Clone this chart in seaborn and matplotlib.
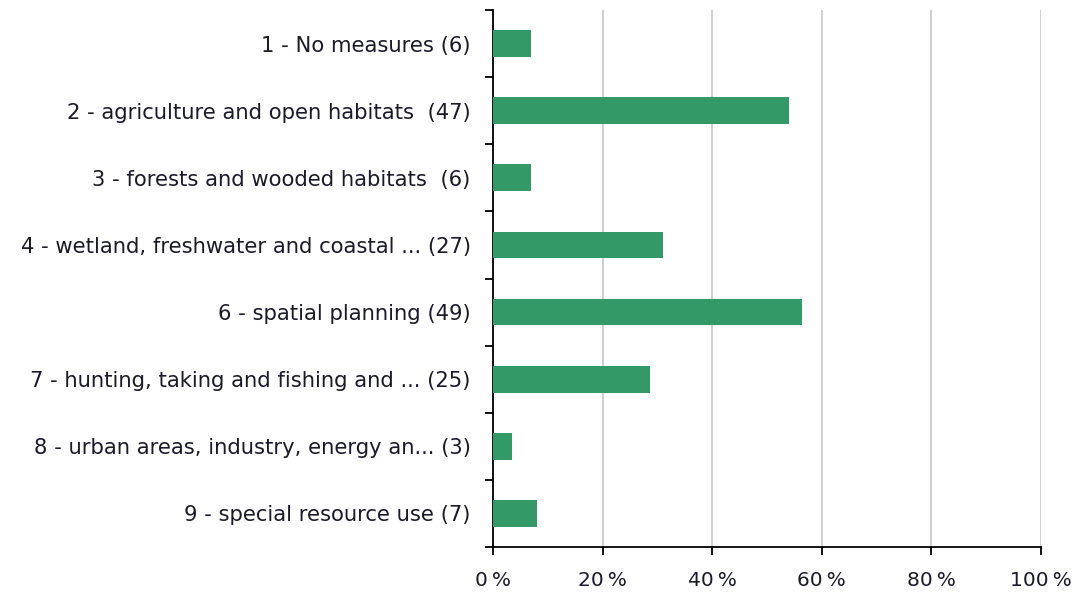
import matplotlib
matplotlib.use("Agg")
import matplotlib.pyplot as plt
import seaborn as sns
import pandas as pd
from matplotlib.ticker import FixedLocator, FuncFormatter

categories = [
    "1 - No measures (6)",
    "2 - agriculture and open habitats  (47)",
    "3 - forests and wooded habitats  (6)",
    "4 - wetland, freshwater and coastal ... (27)",
    "6 - spatial planning (49)",
    "7 - hunting, taking and fishing and ... (25)",
    "8 - urban areas, industry, energy an... (3)",
    "9 - special resource use (7)",
]
shares = [6.9, 54.0, 6.9, 31.0, 56.3, 28.7, 3.4, 8.0]
x_ticks = [0, 20, 40, 60, 80, 100]

sns.set_theme(style="white")
plt.rcParams["font.family"] = ["DejaVu Sans"]

df = pd.DataFrame({"category": categories, "share": shares})

fig = plt.figure(figsize=(10.78, 5.96), dpi=100)
ax = fig.add_axes([0.4573, 0.0822, 0.5084, 0.9010])

sns.barplot(data=df, x="share", y="category", orient="h", color="#339966",
            saturation=1, width=0.4, linewidth=0, ax=ax, zorder=3)

ax.set_xlim(0, 100)
ax.set_ylim(len(categories) - 0.5, -0.5)
ax.xaxis.set_major_locator(FixedLocator(x_ticks))
ax.xaxis.set_major_formatter(FuncFormatter(lambda v, p: f"{v:.0f}\u2009%"))
ax.grid(axis="x", color="#c8c8c8", linewidth=1.2, zorder=0)
ax.set_axisbelow(True)

for s in ("top", "right"):
    ax.spines[s].set_visible(False)
for s in ("left", "bottom"):
    ax.spines[s].set_color("black")
    ax.spines[s].set_linewidth(1.3)

# category boundary ticks on the value-less axis
ax.yaxis.set_minor_locator(FixedLocator([i - 0.5 for i in range(len(categories) + 1)]))
ax.tick_params(axis="y", which="major", length=0, pad=16, labelsize=15.2, labelcolor="#1a1a2a")
ax.tick_params(axis="y", which="minor", left=True, length=6, width=1.3, color="black")
ax.tick_params(axis="x", which="major", bottom=True, length=6, width=1.3, color="black",
               pad=11, labelsize=14.5, labelcolor="#1a1a2a")

ax.set_xlabel("")
ax.set_ylabel("")

fig.savefig("out.png", dpi=100)
